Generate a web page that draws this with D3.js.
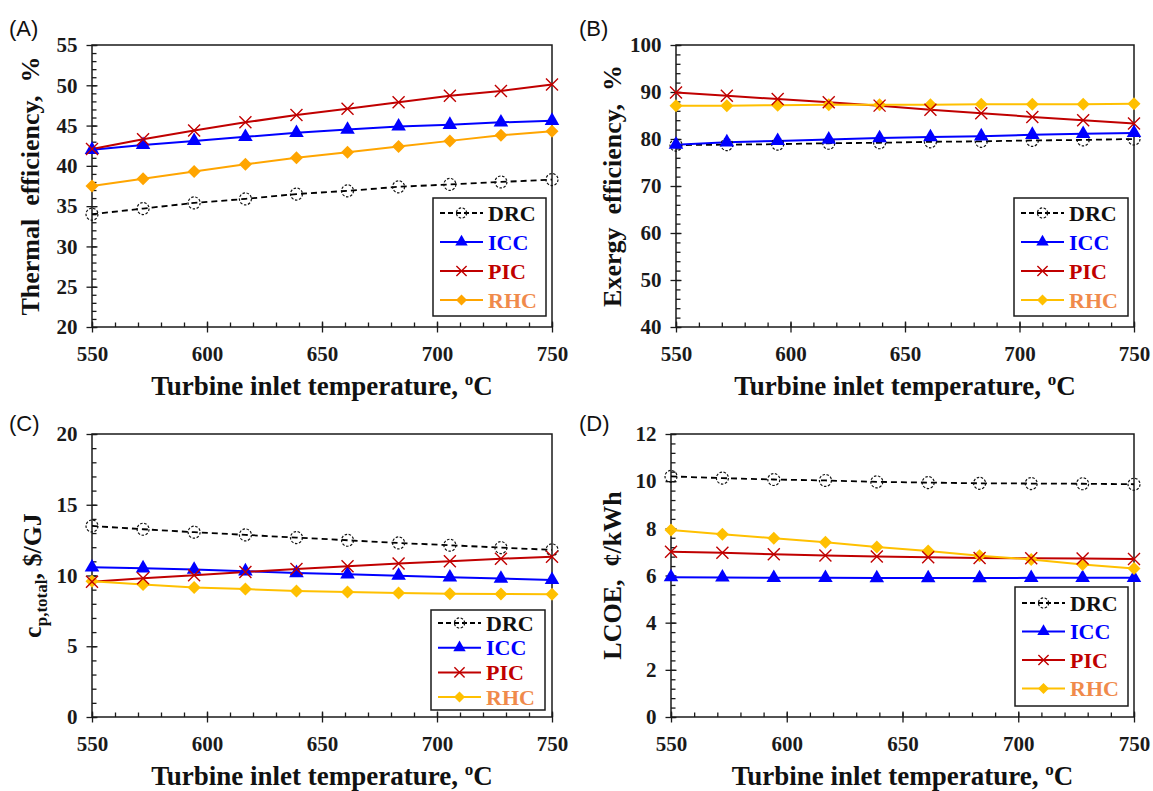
<!DOCTYPE html>
<html><head><meta charset="utf-8">
<script src="https://cdn.jsdelivr.net/npm/d3@7"></script>
<style>
body{margin:0;background:#fff;}
svg{display:block;}
text{font-family:"Liberation Serif","Times New Roman",serif;}
.ax text{font-size:21px;font-weight:bold;fill:#1a1a1a;}
.ax line{stroke:#1a1a1a;stroke-width:1.3;}
</style></head><body>
<svg id="fig" width="1153" height="791"></svg>
<script>
// turbine inlet temperature, oC
const tit=[550,572.2,594.4,616.7,638.9,661.1,683.3,705.6,727.8,750];
const names=['DRC','ICC','PIC','RHC'];
// (A) thermal efficiency, %
const thDRC=[34.0,34.7,35.4,35.9,36.5,36.9,37.4,37.7,38.0,38.3];
const thICC=[42.0,42.6,43.1,43.6,44.1,44.5,44.9,45.1,45.4,45.6];
const thPIC=[42.1,43.3,44.4,45.4,46.3,47.1,47.9,48.7,49.3,50.1];
const thRHC=[37.5,38.4,39.3,40.2,41.0,41.7,42.4,43.1,43.8,44.3];
// (B) exergy efficiency, %
const exDRC=[78.7,78.8,78.9,79.1,79.2,79.4,79.5,79.7,79.8,80.0];
const exICC=[78.8,79.3,79.6,79.9,80.2,80.4,80.6,80.9,81.1,81.3];
const exPIC=[89.9,89.2,88.5,87.8,87.1,86.2,85.5,84.7,84.0,83.3];
const exRHC=[87.1,87.1,87.2,87.3,87.3,87.3,87.4,87.4,87.4,87.5];
// (C) c_p,total, $/GJ
const cpDRC=[13.5,13.27,13.06,12.87,12.68,12.49,12.3,12.14,11.97,11.81];
const cpICC=[10.58,10.51,10.42,10.3,10.18,10.08,9.99,9.87,9.78,9.69];
const cpPIC=[9.56,9.8,10.01,10.25,10.46,10.65,10.84,11.0,11.19,11.33];
const cpRHC=[9.6,9.37,9.16,9.04,8.9,8.83,8.76,8.71,8.69,8.67];
// (D) LCOE, cent/kWh
const lcDRC=[10.2,10.13,10.07,10.03,9.97,9.94,9.91,9.9,9.89,9.87];
const lcICC=[5.93,5.92,5.9,5.9,5.89,5.89,5.89,5.9,5.9,5.9];
const lcPIC=[7.01,6.96,6.9,6.85,6.81,6.77,6.74,6.73,6.72,6.7];
const lcRHC=[7.93,7.75,7.58,7.41,7.21,7.04,6.84,6.68,6.47,6.3];
// ticks
const xTicks=[550,600,650,700,750];
const yTicksA=[20,25,30,35,40,45,50,55];
const yTicksB=[40,50,60,70,80,90,100];
const yTicksC=[0,5,10,15,20];
const yTicksD=[0,2,4,6,8,10,12];

const svg=d3.select('#fig');
const lineCol={DRC:'#000',ICC:'#0000FF',PIC:'#C00000'};
const txtCol={DRC:'#111',ICC:'#0000FF',PIC:'#C00000',RHC:'#F08A4B'};

function marker(sel,name,col,s=1){
  if(name==='DRC') sel.append('circle').attr('r',6*s).attr('fill','none').attr('stroke','#111').attr('stroke-width',1.2).attr('stroke-dasharray','2.5,1.6');
  else if(name==='ICC') sel.append('path').attr('d',d3.symbol(d3.symbolTriangle,92*s*s)()).attr('fill',col);
  else if(name==='PIC') sel.append('path').attr('d',`M${-6*s},${-6*s}L${6*s},${6*s}M${-6*s},${6*s}L${6*s},${-6*s}`).attr('stroke',col).attr('stroke-width',1.4).attr('fill','none');
  else sel.append('path').attr('d',`M0,${-6.5*s}L${6.5*s},0L0,${6.5*s}L${-6.5*s},0Z`).attr('fill',col);
}

function drawPanel(p){
  const g=svg.append('g');
  const x=d3.scaleLinear().domain([550,750]).range([p.x0,p.x1]);
  const y=d3.scaleLinear().domain([p.ticks[0],p.ticks[p.ticks.length-1]]).range([p.y1,p.y0]);
  const noDom=s=>s.select('.domain').remove();
  // minor ticks (inside)
  g.append('g').attr('class','ax').attr('transform',`translate(0,${p.y1})`)
    .call(d3.axisBottom(x).tickValues(d3.range(550,751,10)).tickSize(-4.5).tickFormat('')).call(noDom);
  g.append('g').attr('class','ax').attr('transform',`translate(${p.x0},0)`)
    .call(d3.axisLeft(y).tickValues(d3.range(p.ticks[0],p.ticks[p.ticks.length-1]+1e-9,p.minor)).tickSize(-4.5).tickFormat('')).call(noDom);
  // major ticks crossing the axis
  g.append('g').attr('class','ax').attr('transform',`translate(0,${p.y1})`)
    .call(d3.axisBottom(x).tickValues(xTicks).tickSize(-5.5).tickFormat('')).call(noDom);
  g.append('g').attr('class','ax').attr('transform',`translate(0,${p.y1})`)
    .call(d3.axisBottom(x).tickValues(xTicks).tickSize(5.5).tickPadding(14)).call(noDom);
  g.append('g').attr('class','ax').attr('transform',`translate(${p.x0},0)`)
    .call(d3.axisLeft(y).tickValues(p.ticks).tickSize(-5.5).tickFormat('')).call(noDom);
  g.append('g').attr('class','ax').attr('transform',`translate(${p.x0},0)`)
    .call(d3.axisLeft(y).tickValues(p.ticks).tickSize(5.5).tickPadding(9)).call(noDom);
  // frame
  g.append('rect').attr('x',p.x0).attr('y',p.y0).attr('width',p.x1-p.x0).attr('height',p.y1-p.y0)
    .attr('fill','none').attr('stroke','#1a1a1a').attr('stroke-width',1.5);
  // series
  const col=n=>n==='RHC'?p.rhc:lineCol[n];
  const ln=d3.line().x((d,i)=>x(tit[i])).y(d=>y(d));
  names.forEach((n,k)=>{
    g.append('path').datum(p.data[k]).attr('fill','none').attr('stroke',col(n))
      .attr('stroke-width',n==='DRC'?1.8:2).attr('stroke-dasharray',n==='DRC'?'6,4':null).attr('d',ln);
  });
  [0,1,3,2].forEach(k=>{
    const n=names[k];
    p.data[k].forEach((v,i)=>{
      const m=g.append('g').attr('transform',`translate(${x(tit[i])},${y(v)})`);
      marker(m,n,col(n));
    });
  });
  // legend
  const L=p.leg;
  const lg=g.append('g');
  lg.append('rect').attr('x',L.x).attr('y',L.y).attr('width',L.w).attr('height',L.h)
    .attr('fill','#fff').attr('stroke','#1a1a1a').attr('stroke-width',1.5);
  names.forEach((n,i)=>{
    const cy=L.y+L.top+i*L.gap;
    lg.append('line').attr('x1',L.x+7).attr('x2',L.x+50).attr('y1',cy).attr('y2',cy)
      .attr('stroke',col(n)).attr('stroke-width',n==='DRC'?1.8:2).attr('stroke-dasharray',n==='DRC'?'5,3':null);
    marker(lg.append('g').attr('transform',`translate(${L.x+28.5},${cy})`),n,col(n),0.85);
    lg.append('text').attr('x',L.x+55).attr('y',cy+7.5).attr('font-size',22).attr('font-weight','bold')
      .attr('fill',txtCol[n]).text(n);
  });
  // x title
  const xt=g.append('text').attr('x',(p.x0+p.x1)/2).attr('y',p.y1+68).attr('text-anchor','middle')
    .attr('font-size',27).attr('font-weight','bold').attr('fill','#111');
  xt.append('tspan').text('Turbine inlet temperature, ');
  xt.append('tspan').attr('font-size',17).attr('dy',-10).text('o');
  xt.append('tspan').attr('dy',10).text('C');
  // y title
  const yt=g.append('text').attr('transform',`translate(${p.ytx},${(p.y0+p.y1)/2}) rotate(-90)`)
    .attr('text-anchor','middle').attr('font-size',26).attr('font-weight','bold').attr('fill','#111')
    .attr('xml:space','preserve').style('white-space','pre');
  p.ytitle.forEach(t=>{
    const ts=yt.append('tspan').text(t.t);
    if(t.sub) ts.attr('font-size',17).attr('dy',6);
    if(t.back) ts.attr('dy',-6);
  });
  // panel label
  svg.append('text').attr('x',p.lx).attr('y',p.ly)
    .style('font-family','"Liberation Sans",Arial,sans-serif').attr('font-size',22).attr('fill','#111').text(p.label);
}

const panels=[
  {label:'(A)',lx:9,ly:36,x0:92,x1:552,y0:45,y1:327,ticks:yTicksA,minor:1,data:[thDRC,thICC,thPIC,thRHC],rhc:'#FFA500',
   leg:{x:433,y:198,w:113,h:118,top:15,gap:29},ytx:39,ytitle:[{t:'Thermal  efficiency,  %'}]},
  {label:'(B)',lx:579,ly:36,x0:676,x1:1134,y0:45,y1:327,ticks:yTicksB,minor:2,data:[exDRC,exICC,exPIC,exRHC],rhc:'#FFC000',
   leg:{x:1014,y:198,w:114,h:118,top:15,gap:29},ytx:621,ytitle:[{t:'Exergy  efficiency,  %'}]},
  {label:'(C)',lx:9,ly:431,x0:92,x1:552,y0:434,y1:717,ticks:yTicksC,minor:1,data:[cpDRC,cpICC,cpPIC,cpRHC],rhc:'#FFC000',
   leg:{x:431,y:610,w:114,h:100,top:13,gap:24.7},ytx:41,ytitle:[{t:'c'},{t:'p,total',sub:true},{t:', $/GJ',back:true}]},
  {label:'(D)',lx:579,ly:431,x0:671,x1:1134,y0:434,y1:717,ticks:yTicksD,minor:0.4,data:[lcDRC,lcICC,lcPIC,lcRHC],rhc:'#FFC000',
   leg:{x:1015,y:587,w:113,h:119,top:16,gap:28.5},ytx:621,ytitle:[{t:'LCOE,  ¢/kWh'}]}
];
panels.forEach(drawPanel);
</script>
</body></html>
